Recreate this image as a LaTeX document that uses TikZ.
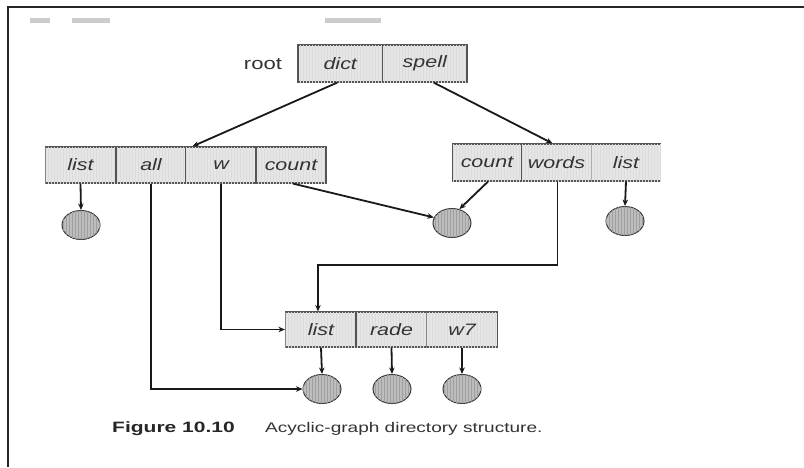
\documentclass[tikz,border=0pt]{standalone}
\usepackage{fontspec}
\usetikzlibrary{arrows.meta,shapes.geometric,patterns}
\newfontfamily\lbl[FakeStretch=1.3]{Liberation Sans}
\newfontfamily\lblit[FakeStretch=1.3]{Liberation Sans Italic}
\newfontfamily\capfont[FakeStretch=1.36]{Liberation Sans}
\newfontfamily\capbold[FakeStretch=1.4]{Liberation Sans Bold}
\definecolor{celledge}{HTML}{555555}
\definecolor{cellfill}{HTML}{E6E6E6}
\definecolor{filefill}{HTML}{BDBDBD}
\definecolor{labeltext}{HTML}{333333}
\tikzset{
  cell/.style={draw=celledge, line width=1.2pt, fill=cellfill,
    postaction={pattern=vertical lines, pattern color=gray!28},
    minimum width=70pt, minimum height=36pt, inner sep=0pt,
    font=\lblit\fontsize{16.5}{18}\selectfont, text=labeltext},
  filenode/.style={ellipse, draw=gray!45!black, line width=1pt, fill=filefill,
    postaction={pattern=vertical lines, pattern color=gray!75},
    minimum width=38pt, minimum height=29pt, inner sep=0pt},
  link/.style={line width=1.8pt, draw=black!90, -{Stealth[length=6.5pt,width=5.5pt]}},
  frameline/.style={line width=2.4pt, draw=black!85},
}
\begin{document}
\begin{tikzpicture}[x=1pt,y=-1pt]
  \useasboundingbox (0,0) rectangle (804,467);
  \fill[white] (0,0) rectangle (804,467);
  % outer frame (top and left edges)
  \draw[frameline] (8,467) -- (8,7) -- (804,7);
  % faint marks along the top
  \fill[gray!40] (30,18) rectangle (50,23);
  \fill[gray!40] (72,18) rectangle (110,23);
  \fill[gray!40] (325,18) rectangle (381,23);

  % root directory
  \node[font=\lbl\fontsize{17}{19}\selectfont, text=labeltext] (rootlbl) at (263,64) {root};
  \node[cell, minimum width=84.5pt, minimum height=37pt] (dict)  at (340.25,63.5) {dict};
  \node[cell, minimum width=84.5pt, minimum height=37pt] (spell) at (424.75,63.5) {spell};

  % dict directory
  \node[cell] (list)  at (80.5,165) {list};
  \node[cell] (all)   at (151,165)  {all};
  \node[cell] (w)     at (221,165)  {w};
  \node[cell] (count) at (291,165)  {count};

  % spell directory
  \node[cell, minimum width=69.5pt, minimum height=37pt] (rcount) at (487,162.5)   {count};
  \node[cell, minimum width=69.5pt, minimum height=37pt] (words)  at (556.5,162.5) {words};
  \node[cell, minimum width=69.5pt, minimum height=37pt] (rlist)  at (626,162.5)   {list};

  % shared subdirectory
  \node[cell, minimum width=71pt, minimum height=35pt] (blist) at (321,329.5)   {list};
  \node[cell, minimum width=71pt, minimum height=35pt] (rade)  at (391.5,329.5) {rade};
  \node[cell, minimum width=71pt, minimum height=35pt] (w7)    at (462,329.5)   {w7};

  % files
  \node[filenode] (f1) at (81,225)  {};
  \node[filenode] (f2) at (452,223) {};
  \node[filenode] (f3) at (625,221) {};
  \node[filenode] (b1) at (322,389) {};
  \node[filenode] (b2) at (392,389) {};
  \node[filenode] (b3) at (462,389) {};

  % links
  \draw[link] ([xshift=-3pt]dict.south) -- ([xshift=7pt]w.north west);
  \draw[link] ([xshift=9pt]spell.south) -- ([xshift=-4pt]words.north);
  \draw[link] (list.south) -- (f1.north);
  \draw[link] (all.south) |- (b1.west);
  \draw[link] (w.south) |- (blist.west);
  \draw[link] ([xshift=2pt]count.south) -- (f2.163);
  \draw[link] ([xshift=1pt]rcount.south) -- (f2.62);
  \coordinate (wturn) at (557.5,265);
  \draw[link] ([xshift=1pt]words.south) -- (wturn) -| ([xshift=-3pt]blist.north);
  \draw[link] (rlist.south) -- (f3.north);
  \draw[link] (blist.south) -- (b1.north);
  \draw[link] (rade.south) -- (b2.north);
  \draw[link] (w7.south) -- (b3.north);

  % caption
  \node[anchor=base west, inner sep=0pt, font=\capbold\fontsize{15}{17}\selectfont, text=black!85] (figno) at (112,432) {Figure 10.10};
  \node[anchor=base west, inner sep=0pt, font=\capfont\fontsize{14}{16}\selectfont, text=labeltext] (figcap) at (265,432) {Acyclic-graph directory structure.};
\end{tikzpicture}
\end{document}
